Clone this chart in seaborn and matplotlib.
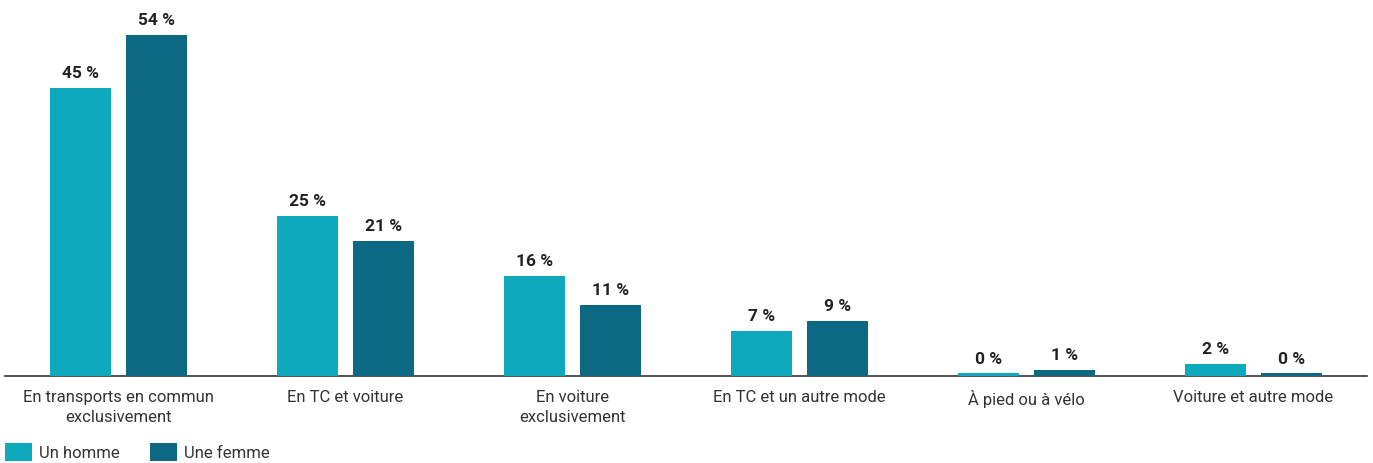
import pandas as pd
import matplotlib.pyplot as plt
import seaborn as sns

# Data
categories = ["En transports en commun\nexclusivement", "En TC et voiture", "En voiture\nexclusivement",
              "En TC et un autre mode", "À pied ou à vélo", "Voiture et autre mode"]
homme = [45.3, 25.2, 15.8, 7.1, 0.4, 1.9]
femme = [53.6, 21.2, 11.2, 8.6, 0.9, 0.4]
series = ["Un homme", "Une femme"]
colors = ["#0EA9BD", "#0D6983"]

df = pd.DataFrame({
    "categorie": categories * 2,
    "sexe": [series[0]] * len(categories) + [series[1]] * len(categories),
    "part": homme + femme,
})

sns.set_style("white")
plt.rcParams["font.family"] = ["Roboto", "DejaVu Sans"]

fig = plt.figure(figsize = (13.73, 4.63), dpi = 100)
ax = fig.add_axes([5 / 1373, 87 / 463, 1362 / 1373, 356 / 463])

sns.barplot(data = df, x = "categorie", y = "part", hue = "sexe", palette = colors, width = 0.67, gap = 0.2,
            saturation = 1, ax = ax, legend = False, zorder = 3, linewidth = 0)

for cont in ax.containers:
    ax.bar_label(cont, labels = [f"{round(v.get_height()):.0f} %" for v in cont], padding = 5,
                 fontsize = 12.5, fontweight = "bold", color = "#222222")

ax.set_xlim(-0.5, 5.5)
ax.set_ylim(0, 56)
ax.set_xlabel("")
ax.set_ylabel("")
ax.set_yticks([])
sns.despine(ax = ax, left = True)
ax.spines["bottom"].set_color("#333333")
ax.spines["bottom"].set_linewidth(1.2)
ax.spines["bottom"].set_zorder(2)
ax.tick_params(axis = "x", length = 0, pad = 10, labelsize = 12, labelcolor = "#333333")
for t in ax.get_xticklabels():
    t.set_linespacing(1.45)

handles = [plt.Rectangle((0, 0), 1, 1, color = c, linewidth = 0) for c in colors]
fig.legend(handles, series, loc = "lower left", bbox_to_anchor = (5 / 1373, 0.004), ncol = 2, frameon = False,
           fontsize = 12, handlelength = 1.6, handleheight = 1.3, handletextpad = 0.45, columnspacing = 1.8,
           borderpad = 0, borderaxespad = 0, labelcolor = "#333333")

fig.savefig("out.png", dpi = 100)
